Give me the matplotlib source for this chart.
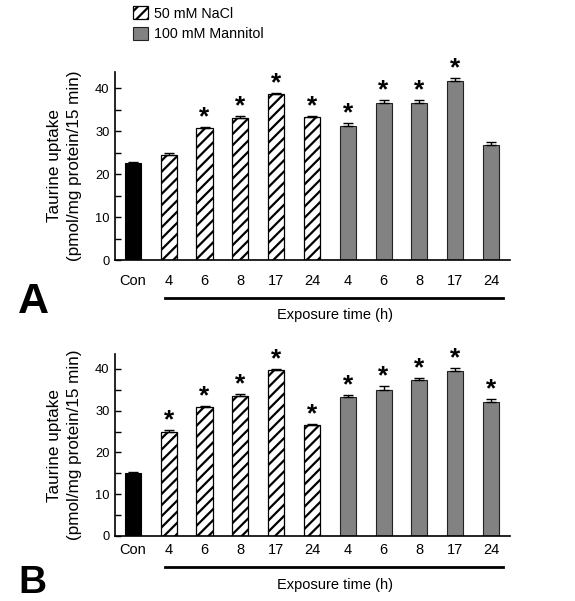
import numpy as np
import matplotlib
matplotlib.use("Agg")
import matplotlib.pyplot as plt
from matplotlib.patches import Patch

plt.rcParams['font.family'] = ['Liberation Sans', 'DejaVu Sans']
plt.rcParams['hatch.linewidth'] = 1.6

# data
labels = ["Con", "4", "6", "8", "17", "24", "4", "6", "8", "17", "24"]
groups = ["con", "nacl", "nacl", "nacl", "nacl", "nacl",
          "man", "man", "man", "man", "man"]

uptake_a = [22.5, 24.5, 30.7, 33.0, 38.7, 33.3, 31.2, 36.5, 36.7, 41.8, 26.7]
err_a = [0.3, 0.5, 0.2, 0.5, 0.2, 0.2, 0.8, 0.8, 0.5, 0.7, 0.7]
star_a = [0, 0, 1, 1, 1, 1, 1, 1, 1, 1, 0]

uptake_b = [15.1, 24.8, 31.0, 33.4, 39.8, 26.5, 33.2, 35.0, 37.3, 39.6, 32.1]
err_b = [0.2, 0.5, 0.2, 0.5, 0.2, 0.2, 0.6, 0.8, 0.6, 0.6, 0.6]
star_b = [0, 1, 1, 1, 1, 1, 1, 1, 1, 1, 1]

legend_labels = ["50 mM NaCl", "100 mM Mannitol"]

GRAY = "#828282"
W, H = 575, 601


def draw_panel(ax, vals, errs, stars, ytop, pad, line_y, xlab_y, letter, letter_y, letter_size):
    x = np.arange(len(vals))
    for i in x:
        g = groups[i]
        if g == "con":
            ax.bar(x[i], vals[i], 0.45, color="black", edgecolor="black", lw=0.8, zorder=2)
        elif g == "nacl":
            ax.bar(x[i], vals[i], 0.45, color="white", edgecolor="black", hatch="///", lw=0.9, zorder=2)
        else:
            ax.bar(x[i], vals[i], 0.45, color=GRAY, edgecolor="#222222", lw=0.8, zorder=2)
    ax.errorbar(x, vals, yerr=[np.zeros(len(errs)), errs], fmt="none", ecolor="black",
                elinewidth=1.0, capsize=3.5, capthick=1.0, zorder=3)
    for i in x:
        if stars[i]:
            ax.annotate("*", (x[i], vals[i] + errs[i]), xytext=(0, 2), textcoords="offset points",
                        ha="center", va="baseline", fontsize=19, fontweight="bold")

    ax.set_xlim(-0.50, 10.53)
    ax.set_ylim(0, ytop)
    ax.set_yticks([0, 10, 20, 30, 40])
    ax.set_yticks([5, 15, 25, 35], minor=True)
    ax.tick_params(axis="y", which="both", direction="in", length=4.5, width=1.0, labelsize=9.3, pad=4)
    ax.set_xticks(x)
    ax.set_xticklabels(labels, fontsize=10.5)
    ax.tick_params(axis="x", length=0, pad=pad)
    for s in ["top", "right"]:
        ax.spines[s].set_visible(False)
    ax.spines["left"].set_linewidth(1.2)
    ax.spines["bottom"].set_linewidth(1.2)

    ax.set_ylabel("Taurine uptake\n(pmol/mg protein/15 min)", fontsize=12.3, linespacing=1.4, va="center")
    ax.yaxis.set_label_coords(-0.127, 0.5)

    trans = ax.get_xaxis_transform()
    ax.plot([0.89, 10.34], [line_y, line_y], color="black", lw=2.0, transform=trans, clip_on=False)
    ax.text(5.64, xlab_y, "Exposure time (h)", transform=trans, ha="center", va="center", fontsize=10.5)
    ax.figure.text(18 / W, 1 - letter_y / H, letter, fontsize=letter_size, fontweight="bold",
                   ha="left", va="baseline")


fig = plt.figure(figsize=(W / 100, H / 100), dpi=100)
ax_a = fig.add_axes([115 / W, 1 - 260 / H, 395 / W, 188.3 / H])
ax_b = fig.add_axes([115 / W, 1 - 536 / H, 395 / W, 181.7 / H])

draw_panel(ax_a, uptake_a, err_a, star_a, 43.9, 10, -0.202, -0.292, "A", 313, 31)
draw_panel(ax_b, uptake_b, err_b, star_b, 43.5, 5, -0.171, -0.27, "B", 593, 28)

handles = [Patch(facecolor="white", edgecolor="black", hatch="///", lw=0.9),
           Patch(facecolor=GRAY, edgecolor="#222222", lw=0.8)]
fig.legend(handles, legend_labels, loc="upper left", bbox_to_anchor=(133 / W, 1 - 6 / H),
           frameon=False, fontsize=10.3, handlelength=1.05, handleheight=1.05,
           handletextpad=0.45, labelspacing=0.45, borderpad=0, borderaxespad=0)

fig.savefig("out.png", dpi=100)
